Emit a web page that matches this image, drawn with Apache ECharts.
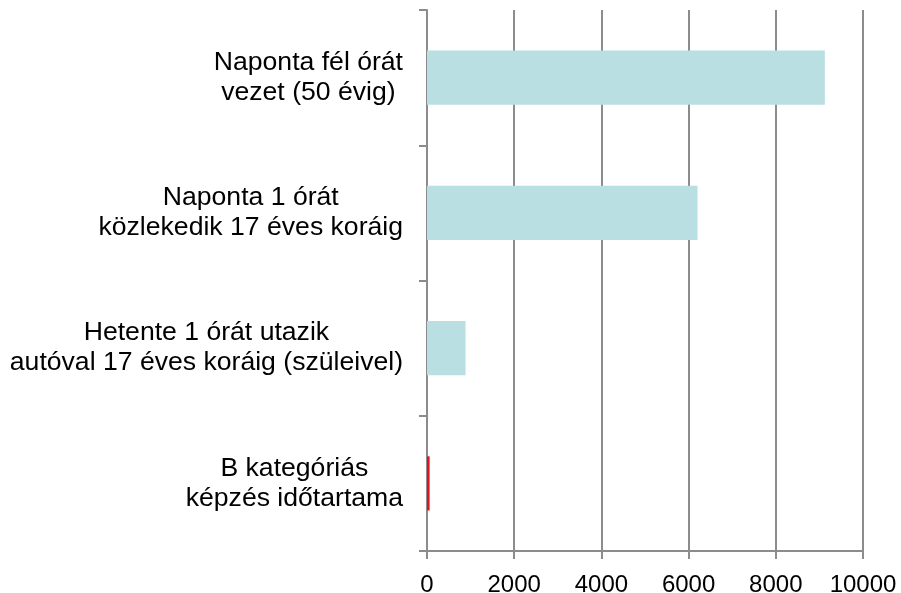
<!DOCTYPE html>
<html>
<head>
<meta charset="utf-8">
<script src="https://cdn.jsdelivr.net/npm/echarts@6/dist/echarts.min.js"></script>
<style>
html,body{margin:0;padding:0;background:#fff;}
#chart{width:901px;height:593px;}
</style>
</head>
<body>
<div id="chart"></div>
<script>
const categories = [
  'Naponta fél órát\nvezet (50 évig)',
  'Naponta 1 órát\nközlekedik 17 éves koráig',
  'Hetente 1 órát utazik\nautóval 17 éves koráig (szüleivel)',
  'B kategóriás\nképzés időtartama'
];
const values = [9125, 6205, 884, 60];
const barColors = ['#badfe2', '#badfe2', '#badfe2', '#e0141e'];
const xTicks = { min: 0, max: 10000, interval: 2000 };

const gray = '#8c8c8c';
const chart = echarts.init(document.getElementById('chart'), null, { renderer: 'canvas' });
chart.setOption({
  animation: false,
  backgroundColor: '#fff',
  grid: { left: 427, right: 38, top: 10, bottom: 42, containLabel: false, outerBoundsMode: 'none' },
  xAxis: {
    type: 'value',
    min: xTicks.min, max: xTicks.max, interval: xTicks.interval,
    axisLine: { show: true, lineStyle: { color: gray, width: 2 } },
    axisTick: { show: true, length: 8, lineStyle: { color: gray, width: 2 } },
    axisLabel: {
      color: '#000', fontFamily: 'Liberation Sans, Arial, sans-serif', fontSize: 24, margin: 22,
      formatter: function (v) { return String(v); }
    },
    splitLine: { show: true, lineStyle: { color: gray, width: 2 } }
  },
  yAxis: {
    type: 'category',
    inverse: true,
    data: categories,
    axisLine: { show: true, lineStyle: { color: gray, width: 2 } },
    axisTick: { show: true, length: 8, lineStyle: { color: gray, width: 2 } },
    axisLabel: {
      margin: 24,
      align: 'right',
      color: '#000',
      fontFamily: 'Liberation Sans, Arial, sans-serif',
      fontSize: 26.6,
      lineHeight: 30,
      formatter: function (v) {
        return v.split('\n').map(function (l) { return '{c|' + l + '}'; }).join('\n');
      },
      rich: { c: { align: 'center', color: '#000', fontFamily: 'Liberation Sans, Arial, sans-serif', fontSize: 26.6, lineHeight: 30 } }
    },
    splitLine: { show: false }
  },
  series: [{
    type: 'bar',
    barCategoryGap: '60%',
    data: values.map(function (v, i) { return { value: v, itemStyle: { color: barColors[i] } }; })
  }]
});
</script>
</body>
</html>
